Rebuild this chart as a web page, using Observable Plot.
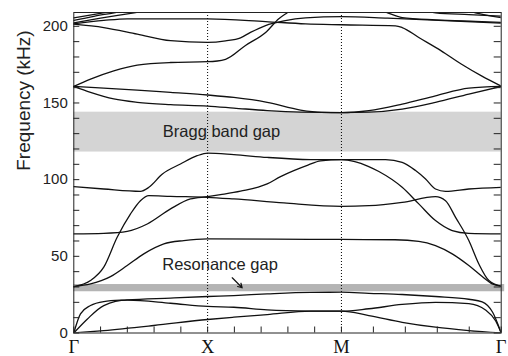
<!DOCTYPE html>
<html><head><meta charset="utf-8">
<script src="https://cdn.jsdelivr.net/npm/d3@7"></script>
<script src="https://cdn.jsdelivr.net/npm/@observablehq/plot@0.6"></script>
<style>body{margin:0;background:#fff}</style>
</head><body><div id="chart"></div>
<script>
// Symmetry points along the wave-vector path
const symmetryLabels = ["Γ", "X", "M", "Γ"];
const symmetryK = [0, 1, 2, 3.194];
const yTickLabels = [0, 50, 100, 150, 200];
const yMinorTicks = d3.range(0, 210, 10);

// Gap bands (kHz)
const braggGap = [118.0, 144.0];
const resonanceGap = [26.9, 31.6];

// Band curves as [k, frequency kHz]
const band1 = [[0,0],[0.224,1.6],[0.598,4.9],[1,8.8],[1.196,10.3],[1.445,12],[1.769,14.2],[2,14.2],[2.205,11.4],[2.454,7],[2.703,3.8],[2.952,1.6],[3.194,0]];
const band2 = [[0,0],[0.1,9],[0.224,17.9],[0.399,21.4],[0.723,19.4],[1,17.3],[1.196,16.8],[1.445,15.1],[1.769,14.3],[2,14.2],[2.205,15.8],[2.454,18.6],[2.703,20],[2.952,19.2],[3.077,15],[3.152,8],[3.194,0]];
const band3 = [[0,0],[0.05,12.5],[0.125,17.9],[0.224,20.5],[0.399,21.6],[0.723,22.8],[1,23.8],[1.196,24.4],[1.445,25.5],[1.769,26.5],[2,26.6],[2.205,25.9],[2.454,25.1],[2.703,23.8],[2.952,22],[3.052,20.3],[3.13,13.5],[3.194,0]];
const band4 = [[0,30.3],[0.125,32],[0.274,36.8],[0.399,44],[0.523,51.6],[0.673,58.1],[0.822,60.3],[1,61.4],[1.5,61.2],[2,61],[2.4,60.8],[2.578,59.8],[2.703,57],[2.828,51.6],[2.952,44],[3.052,36.8],[3.127,32],[3.194,30.5]];
const band5 = [[0,30.3],[0.125,34.2],[0.224,42.9],[0.324,62.4],[0.424,77.7],[0.498,86.3],[0.561,89.6],[0.723,89.1],[1,88.5],[1.196,87.4],[1.57,84.8],[2,82.6],[2.205,83],[2.454,85.2],[2.703,88.9],[2.778,86.3],[2.853,75.4],[2.952,60.3],[3.027,45],[3.102,34.2],[3.194,30.5]];
const band6 = [[0,64.6],[0.224,65],[0.399,66.3],[0.549,71.1],[0.723,80.9],[0.872,87.4],[1,88.9],[1.096,90.2],[1.246,92.5],[1.445,97.2],[1.545,102],[1.644,105.9],[1.75,109.5],[1.844,112.2],[2,113],[2.1,111.8],[2.2,108.7],[2.28,105.3],[2.454,95],[2.578,84.2],[2.703,73.3],[2.828,66.8],[2.952,65],[3.194,64.6]];
const band7 = [[0,95.4],[0.224,93.9],[0.498,92.4],[0.561,95],[0.66,103.5],[0.797,110.2],[0.922,115.6],[1,117.3],[1.196,116.3],[1.445,114.5],[1.769,113.1],[2,113],[2.33,113],[2.454,111.3],[2.554,105.9],[2.629,100.4],[2.703,93.9],[2.778,92.4],[2.952,93.9],[3.194,95]];
const band8 = [[0,160.8],[0.125,156.9],[0.299,152.6],[0.474,150.4],[0.723,148.9],[1,148],[1.196,146.7],[1.445,145],[1.694,144],[2,143.7],[2.205,144],[2.454,146],[2.703,150.4],[2.952,155.8],[3.194,160.8]];
const band9 = [[0,160.8],[0.224,159.7],[0.474,158.4],[0.723,156.9],[1,155.2],[1.196,153.6],[1.445,150.4],[1.694,145.4],[1.85,143.9],[2,143.7],[2.205,145],[2.454,149.3],[2.703,154.7],[2.952,159.7],[3.194,160.8]];
const band10 = [[0,160.8],[0.125,165.6],[0.299,171],[0.474,174.7],[0.723,176.4],[1,176.9],[1.134,178.5],[1.283,187.5],[1.44,196.5],[1.532,204.9],[1.595,208.8],[1.65,212]];
const band11 = [[0,201.4],[0.224,199.2],[0.474,194.9],[0.723,190.6],[1,189.5],[1.134,190.5],[1.246,192.5],[1.32,196],[1.433,200.5],[1.57,203.5],[1.732,205.5],[2,206.3],[2.345,205.3],[2.85,203.4],[3.194,202]];
const band12 = [[0,201.6],[0.224,203.8],[0.4,204.9],[1,204.9],[1.433,203.1],[1.732,201.6],[2,201],[2.404,200.3],[2.454,199.2],[2.578,192.7],[2.746,184],[2.895,175.4],[3.05,167.5],[3.194,161]];
const band13 = [[0,203.8],[0.15,206.5],[0.3,208.8],[0.4,210.5]];
const band14 = [[0,202.2],[0.2,205.3],[0.45,208.8],[0.55,210.3]];
const band15 = [[0,205.5],[0.22,208.8],[0.3,210]];
const band16 = [[2.3,210.3],[2.345,208.8],[2.454,205.7],[2.703,204.2],[3.002,203.2],[3.194,202.6]];
const band17 = [[2.65,209.8],[2.703,208.8],[2.952,207.6],[3.194,206.6]];
const band18 = [[2.95,210],[3.002,208.8],[3.194,205.6]];

const bands = [band1,band2,band3,band4,band5,band6,band7,band8,band9,band10,band11,band12,band13,band14,band15,band16,band17,band18];
const rows = bands.flatMap((pts, i) => pts.map(([k, f]) => ({band: i, k, f})));

// Minor ticks along k: five per segment
const xMinorTicks = symmetryK.slice(0, -1).flatMap((k0, i) => d3.range(5).map(j => k0 + (symmetryK[i + 1] - k0) * j / 5)).concat([symmetryK[3]]);

// Annotations (data coordinates)
const notes = [{text: "Bragg band gap", k: 0.665, f: 127.8}, {text: "Resonance gap", k: 0.661, f: 41}];
const arrowNote = [{k1: 1.184, f1: 36, k2: 1.258, f2: 29.5}];

const W = 508, H = 356, mL = 73.3, mR = 7.3, mT = 12, mB = 23.5;
const frameW = W - mL - mR, frameH = H - mT - mB;

const chart = Plot.plot({
  width: W, height: H,
  marginLeft: mL, marginRight: mR, marginTop: mT, marginBottom: mB,
  x: {domain: [0, symmetryK[3]], axis: null},
  y: {domain: [0, 209], axis: null},
  style: {fontFamily: "'Liberation Sans', Arial, Helvetica, sans-serif", fontSize: "15px", background: "#fff", color: "#222"},
  marks: [
    Plot.rect([braggGap], {y1: d => d[0], y2: d => d[1], fill: "#d4d4d4"}),
    Plot.rect([resonanceGap], {x1: symmetryK[0], x2: 3.22, y1: d => d[0], y2: d => d[1], fill: "#b4b4b4"}),
    Plot.ruleX(symmetryK.slice(1, 3), {stroke: "#000", strokeWidth: 1, strokeDasharray: "1,2"}),
    Plot.line(rows, {x: "k", y: "f", z: "band", curve: "monotone-x", stroke: "#111", strokeWidth: 1.3, clip: true}),
    // inward ticks
    Plot.tickY(yMinorTicks, {y: d => d, insetRight: frameW - 6, stroke: "#222"}),
    Plot.tickY(yMinorTicks, {y: d => d, insetLeft: frameW - 7, stroke: "#222"}),
    Plot.tickX(xMinorTicks, {x: d => d, insetTop: frameH - 6, stroke: "#222"}),
    Plot.frame({stroke: "#222", strokeWidth: 1}),
    Plot.text(yTickLabels, {y: d => d, frameAnchor: "left", dx: -6, textAnchor: "end", fontSize: 15, fill: "#222"}),
    Plot.text(symmetryLabels, {x: (d, i) => symmetryK[i], frameAnchor: "bottom", dy: 20, lineAnchor: "bottom", fontFamily: "'Liberation Serif', 'Times New Roman', serif", fontSize: 18.5, fill: "#111"}),
    Plot.text(["Frequency (kHz)"], {frameAnchor: "left", rotate: -90, dx: -44, dy: -2, lineAnchor: "bottom", fontSize: 19, fill: "#222"}),
    Plot.text(notes, {x: "k", y: "f", text: "text", textAnchor: "start", lineAnchor: "bottom", fontSize: 16.5, fill: "#222"}),
    Plot.arrow(arrowNote, {x1: "k1", y1: "f1", x2: "k2", y2: "f2", headLength: 6, strokeWidth: 1.2, stroke: "#111"})
  ]
});
document.getElementById("chart").appendChild(chart);
</script>
</body></html>
